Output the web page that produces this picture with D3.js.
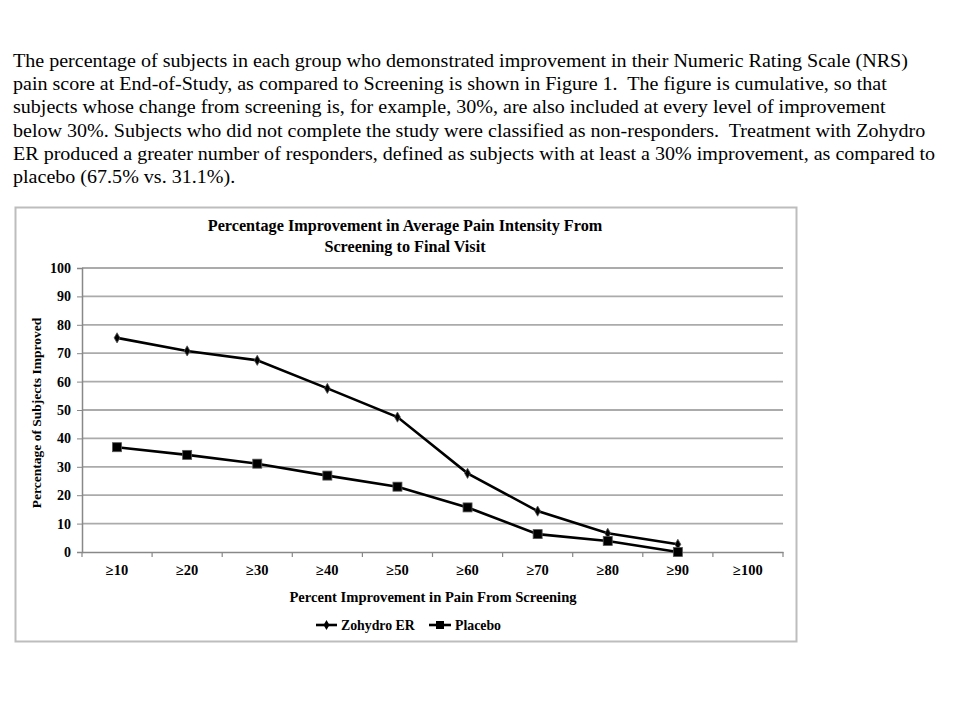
<!DOCTYPE html>
<html><head><meta charset="utf-8">
<script src="https://cdn.jsdelivr.net/npm/d3@7"></script>
<style>
body{margin:0;background:#fff;}
svg{display:block;}
</style></head>
<body>
<svg id="c" width="960" height="720"></svg>
<script>
const categories = ["≥10","≥20","≥30","≥40","≥50","≥60","≥70","≥80","≥90","≥100"];
const zohydro = [75.4, 70.8, 67.5, 57.6, 47.5, 27.7, 14.4, 6.6, 2.7];
const placebo = [36.9, 34.2, 31.1, 26.9, 23.0, 15.7, 6.3, 3.9, 0.0];
const yTicks = [0,10,20,30,40,50,60,70,80,90,100];
const paragraph = [
 "The percentage of subjects in each group who demonstrated improvement in their Numeric Rating Scale (NRS)",
 "pain score at End-of-Study, as compared to Screening is shown in Figure 1.  The figure is cumulative, so that",
 "subjects whose change from screening is, for example, 30%, are also included at every level of improvement",
 "below 30%. Subjects who did not complete the study were classified as non-responders.  Treatment with Zohydro",
 "ER produced a greater number of responders, defined as subjects with at least a 30% improvement, as compared to",
 "placebo (67.5% vs. 31.1%)."
];

const svg = d3.select("#c");
const serif = "'Liberation Serif','Times New Roman',serif";

// paragraph
svg.append("g").attr("transform","translate(13,0) scale(1.045,1)")
  .selectAll("text").data(paragraph).join("text")
  .attr("x", 0).attr("y", (d,i)=>67+i*23.2)
  .attr("font-family", serif).attr("font-size", 19.2)
  .attr("fill","#000").style("white-space","pre")
  .text(d=>d);

// chart frame
svg.append("rect").attr("x",15.5).attr("y",207.5).attr("width",781).attr("height",434)
  .attr("fill","#fff").attr("stroke","#bdbdbd").attr("stroke-width",2);

const L=82, R=783, T=268, B=552;
const x = d3.scaleBand().domain(categories).range([L,R]);
const y = d3.scaleLinear().domain([0,100]).range([B,T]);

// gridlines
svg.append("g").selectAll("line").data(yTicks.filter(d=>d>0)).join("line")
  .attr("x1",L).attr("x2",R).attr("y1",d=>y(d)).attr("y2",d=>y(d))
  .attr("stroke","#ababab").attr("stroke-width",1.8);

// y axis
const yAxis = svg.append("g").attr("transform",`translate(${L},0)`)
  .call(d3.axisLeft(y).tickValues(yTicks).tickSize(5).tickPadding(6));
yAxis.select(".domain").attr("stroke","#888").attr("stroke-width",1.5);
yAxis.selectAll(".tick line").attr("stroke","#888");
yAxis.selectAll(".tick text").attr("font-family",serif).attr("font-weight","bold")
  .attr("font-size",14).attr("fill","#000");

// x axis
const xAxis = svg.append("g").attr("transform",`translate(0,${B})`)
  .call(d3.axisBottom(x).tickSize(0).tickPadding(13));
xAxis.select(".domain").attr("stroke","#888").attr("stroke-width",1.5);
xAxis.selectAll(".tick text").attr("font-family",serif).attr("font-weight","bold")
  .attr("font-size",14.5).attr("fill","#000");
// band boundary ticks
const bounds = categories.map(c=>x(c)).concat([R]);
svg.append("g").selectAll("line").data(bounds).join("line")
  .attr("x1",d=>d).attr("x2",d=>d).attr("y1",B).attr("y2",B+5)
  .attr("stroke","#888").attr("stroke-width",1.2);

// titles
svg.append("text").attr("x",405).attr("y",231).attr("text-anchor","middle")
  .attr("font-family",serif).attr("font-weight","bold").attr("font-size",16.2)
  .text("Percentage Improvement in Average Pain Intensity From");
svg.append("text").attr("x",405).attr("y",251.5).attr("text-anchor","middle")
  .attr("font-family",serif).attr("font-weight","bold").attr("font-size",16.2)
  .text("Screening to Final Visit");
svg.append("text").attr("x",433).attr("y",602).attr("text-anchor","middle")
  .attr("font-family",serif).attr("font-weight","bold").attr("font-size",14.6)
  .text("Percent Improvement in Pain From Screening");
svg.append("text").attr("transform","translate(41,413) rotate(-90)").attr("text-anchor","middle")
  .attr("font-family",serif).attr("font-weight","bold").attr("font-size",13.5)
  .text("Percentage of Subjects Improved");

// lines
const line = d3.line().x((d,i)=>x(categories[i])+x.bandwidth()/2).y(d=>y(d));
svg.append("path").datum(zohydro).attr("d",line).attr("fill","none")
  .attr("stroke","#000").attr("stroke-width",2.6);
svg.append("path").datum(placebo).attr("d",line).attr("fill","none")
  .attr("stroke","#000").attr("stroke-width",2.6);

const diamond = d3.symbol().type(d3.symbolDiamond).size(30);
svg.append("g").selectAll("path").data(zohydro).join("path")
  .attr("transform",(d,i)=>`translate(${x(categories[i])+x.bandwidth()/2},${y(d)})`)
  .attr("d",diamond).attr("fill","#000").attr("stroke","#555").attr("stroke-width",0.8);
svg.append("g").selectAll("rect").data(placebo).join("rect")
  .attr("x",(d,i)=>x(categories[i])+x.bandwidth()/2-4.5).attr("y",d=>y(d)-4.5)
  .attr("width",9).attr("height",9).attr("fill","#000").attr("stroke","#555").attr("stroke-width",0.8);

// legend
const lg = svg.append("g");
lg.append("line").attr("x1",316).attr("x2",337).attr("y1",625).attr("y2",625).attr("stroke","#000").attr("stroke-width",2.6);
lg.append("path").attr("transform","translate(326.5,625)").attr("d",diamond).attr("fill","#000");
lg.append("text").attr("x",341).attr("y",630).attr("font-family",serif).attr("font-weight","bold").attr("font-size",13.8).text("Zohydro ER");
lg.append("line").attr("x1",429).attr("x2",451).attr("y1",625).attr("y2",625).attr("stroke","#000").attr("stroke-width",2.6);
lg.append("rect").attr("x",436).attr("y",621).attr("width",8).attr("height",8).attr("fill","#000");
lg.append("text").attr("x",455).attr("y",630).attr("font-family",serif).attr("font-weight","bold").attr("font-size",13.8).text("Placebo");
</script>
</body></html>
